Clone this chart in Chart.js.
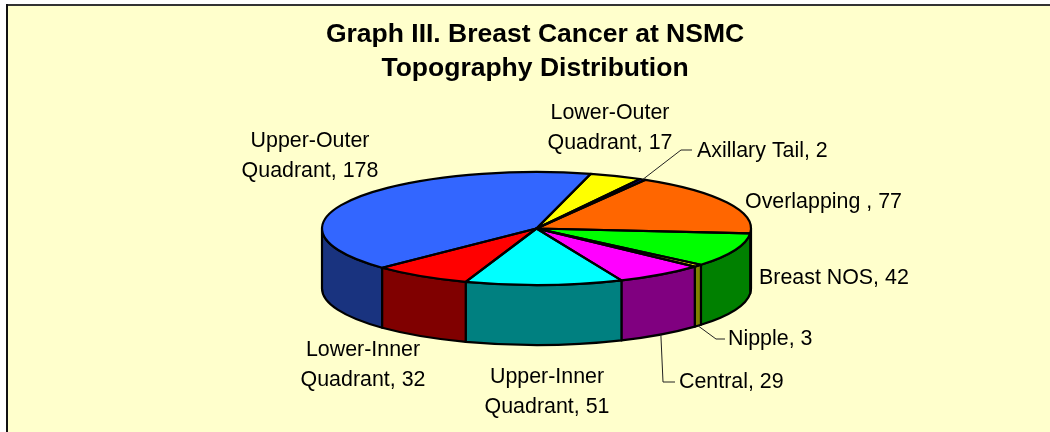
<!DOCTYPE html>
<html>
<head>
<meta charset="utf-8">
<style>html,body{margin:0;padding:0;background:#fff}canvas{display:block}</style>
<script src="https://cdn.jsdelivr.net/npm/chart.js@4/dist/chart.umd.min.js"></script>
</head>
<body>
<canvas id="c" width="1050" height="432"></canvas>
<script>
const titleLines = ["Graph III. Breast Cancer at NSMC", "Topography Distribution"];
const categories = ["Upper-Outer Quadrant", "Lower-Outer Quadrant", "Axillary Tail", "Overlapping ", "Breast NOS", "Nipple", "Central", "Upper-Inner Quadrant", "Lower-Inner Quadrant"];
const values = [178, 17, 2, 77, 42, 3, 29, 51, 32];
const topColors = ["#3366FF", "#FFFF00", "#0000FF", "#FF6600", "#00FF00", "#FFFF00", "#FF00FF", "#00FFFF", "#FF0000"];
const sideColors = ["#19337F", "#7F7F00", "#00007F", "#7F3300", "#008000", "#808000", "#800080", "#008080", "#800000"];

// label placement: [anchor x, first line centre y, text align]
const labelPlacement = [
  [310, 141, "center"], [610, 113, "center"], [697, 151, "left"], [745, 202, "left"], [759, 278, "left"],
  [728, 339, "left"], [679, 382, "left"], [547, 377, "center"], [363, 350, "center"]
];
// leader lines: index -> elbow, end, and whether they start on the lower rim
const leaders = {
  2: {elbow: [681, 150], end: [692, 150], lower: false},
  5: {elbow: [716, 339], end: [725, 339], lower: true},
  6: {elbow: [663, 382], end: [675, 382], lower: true}
};

const view = {cx: 536.5, cy: 228.5, rx: 214.5, ry: 56.5, depth: 60};
const FONT = '"Liberation Sans", Arial, sans-serif';

function ellipsePoint(a, dy) {
  return [view.cx + view.rx * Math.cos(a), view.cy + view.ry * Math.sin(a) + (dy || 0)];
}
function frontSpans(s, e) {
  const spans = [];
  for (let k = -1; k <= 2; k++) {
    const lo = Math.max(s, k * 2 * Math.PI), hi = Math.min(e, k * 2 * Math.PI + Math.PI);
    if (hi > lo) spans.push([lo, hi]);
  }
  return spans;
}

const pie3d = {
  id: "pie3d",
  beforeDraw(chart) {
    const c = chart.ctx;
    c.save();
    c.fillStyle = "#FFFFCC";
    c.fillRect(6, 4, 1044, 428);
    c.fillStyle = "#333333";
    c.fillRect(6, 4, 1044, 2);
    c.fillStyle = "#111111";
    c.fillRect(6, 4, 2, 428);
    c.restore();
  },
  beforeDatasetsDraw(chart) {
    const c = chart.ctx;
    const arcs = chart.getDatasetMeta(0).data;
    c.save();
    c.lineWidth = 2.2;
    c.lineJoin = "round";
    c.strokeStyle = "#000";
    arcs.forEach((arc, i) => {
      const {startAngle, endAngle} = arc.getProps(["startAngle", "endAngle"], true);
      frontSpans(startAngle, endAngle).forEach(([lo, hi]) => {
        c.beginPath();
        c.ellipse(view.cx, view.cy, view.rx, view.ry, 0, lo, hi);
        c.ellipse(view.cx, view.cy + view.depth, view.rx, view.ry, 0, hi, lo, true);
        c.closePath();
        c.fillStyle = sideColors[i];
        c.fill();
        c.stroke();
      });
    });
    c.restore();
    const a0 = arcs[0];
    c.save();
    c.translate(view.cx, view.cy);
    c.scale(1, view.ry / view.rx);
    c.translate(-a0.x, -a0.y);
  },
  afterDatasetsDraw(chart) {
    const c = chart.ctx;
    c.restore();
    const arcs = chart.getDatasetMeta(0).data;
    c.save();
    c.lineWidth = 2.2;
    c.lineJoin = "round";
    c.strokeStyle = "#000";
    arcs.forEach((arc) => {
      const {startAngle, endAngle} = arc.getProps(["startAngle", "endAngle"], true);
      c.beginPath();
      c.moveTo(view.cx, view.cy);
      c.ellipse(view.cx, view.cy, view.rx, view.ry, 0, startAngle, endAngle);
      c.closePath();
      c.stroke();
    });
    // leader lines
    c.lineWidth = 1;
    c.strokeStyle = "#222";
    Object.keys(leaders).forEach((k) => {
      const l = leaders[k];
      const {startAngle, endAngle} = arcs[k].getProps(["startAngle", "endAngle"], true);
      const p = ellipsePoint((startAngle + endAngle) / 2, l.lower ? view.depth : 0);
      c.beginPath();
      c.moveTo(p[0], p[1]);
      c.lineTo(l.elbow[0], l.elbow[1]);
      c.lineTo(l.end[0], l.end[1]);
      c.stroke();
    });
    // labels
    c.fillStyle = "#000";
    c.font = "21.4px " + FONT;
    c.textBaseline = "middle";
    categories.forEach((name, i) => {
      const [x, y, align] = labelPlacement[i];
      c.textAlign = align;
      const text = name + ", " + values[i];
      const cut = text.indexOf(" Quadrant");
      const lines = cut > 0 ? [text.slice(0, cut), text.slice(cut + 1)] : [text];
      lines.forEach((t, j) => c.fillText(t, x, y + j * 30.5));
    });
    c.restore();
  }
};

new Chart(document.getElementById("c"), {
  type: "pie",
  data: {
    labels: categories,
    datasets: [{data: values, backgroundColor: topColors, borderWidth: 0, clip: false}]
  },
  options: {
    responsive: false,
    animation: false,
    rotation: 226,
    radius: view.rx,
    layout: {padding: {left: 20, top: 18}},
    plugins: {
      legend: {display: false},
      tooltip: {enabled: false},
      title: {
        display: true,
        text: titleLines,
        color: "#000",
        font: {family: FONT, size: 26.5, weight: "bold", lineHeight: 1.28},
        padding: {top: 0, bottom: 4}
      }
    }
  },
  plugins: [pie3d]
});
</script>
</body>
</html>
